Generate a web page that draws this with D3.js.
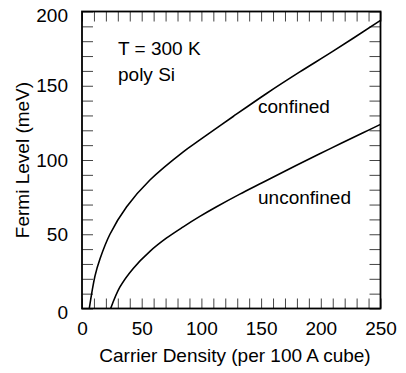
<!DOCTYPE html>
<html>
<head>
<meta charset="utf-8">
<script src="https://cdn.jsdelivr.net/npm/d3@7"></script>
<style>
  body { margin: 0; background: #fff; }
  svg { font-family: "Liberation Sans", Arial, sans-serif; }
</style>
</head>
<body>
<svg width="406" height="373"></svg>
<script>
// carrier density (per 100 A cube) vs Fermi level (meV)
const confinedX = [6.1, 10.9, 15.1, 23.4, 37.4, 56.9, 84.8, 98.7, 126.6, 154.6, 182.4, 210.3, 250];
const confinedY = [0, 22, 33.5, 50, 68.5, 86.5, 105.5, 113.5, 129.3, 144.8, 159.3, 173.3, 194];
const unconfinedX = [24, 31.8, 42.9, 56.9, 70.9, 84.8, 98.7, 112.7, 132.2, 151.7, 179.7, 207.5, 235.4, 250];
const unconfinedY = [0, 14.5, 27, 38.5, 47.5, 55, 62, 68.5, 77, 85, 96.5, 107.5, 118.3, 124];
const xTicks = d3.range(0, 251, 10);
const yTicks = d3.range(0, 201, 10);

const svg = d3.select('svg');
const mLeft = 82, mRight = 380.5, mTop = 11.5, mBottom = 308.5;
const fontSize = 19;

const xScale = d3.scaleLinear().domain([0, 250]).range([mLeft, mRight]);
const yScale = d3.scaleLinear().domain([0, 200]).range([mBottom, mTop]);

const fmt = d => (d % 50 === 0 ? d : '');

const xAxis = d3.axisBottom(xScale).tickValues(xTicks).tickSize(-10).tickPadding(13).tickFormat(fmt);
const xAxisTop = d3.axisTop(xScale).tickValues(xTicks).tickSize(-10).tickFormat('');
const yAxis = d3.axisLeft(yScale).tickValues(yTicks).tickSize(-11).tickPadding(14).tickFormat(fmt);
const yAxisRight = d3.axisRight(yScale).tickValues(yTicks).tickSize(-11).tickFormat('');

svg.append('g').attr('transform', 'translate(0,' + mBottom + ')').call(xAxis);
svg.append('g').attr('transform', 'translate(0,' + mTop + ')').call(xAxisTop);
svg.append('g').attr('transform', 'translate(' + mLeft + ',0)').call(yAxis)
  .selectAll('text')
  .attr('transform', d => (d === 0 || d === 200 ? 'translate(0,4)' : null));
svg.append('g').attr('transform', 'translate(' + mRight + ',0)').call(yAxisRight);

svg.selectAll('.domain').remove();
svg.selectAll('.tick line').attr('stroke', '#444').attr('stroke-width', 1);
svg.selectAll('.tick text').attr('font-size', fontSize).attr('fill', '#000')
  .attr('font-family', '"Liberation Sans", Arial, sans-serif');

svg.append('rect')
  .attr('x', mLeft).attr('y', mTop)
  .attr('width', mRight - mLeft).attr('height', mBottom - mTop)
  .attr('fill', 'none').attr('stroke', '#000').attr('stroke-width', 1.8);

svg.append('clipPath').attr('id', 'clip')
  .append('rect').attr('x', mLeft).attr('y', mTop)
  .attr('width', mRight - mLeft).attr('height', mBottom - mTop);

const line = d3.line()
  .x(d => xScale(d[0]))
  .y(d => yScale(d[1]))
  .curve(d3.curveCatmullRom.alpha(0.5));

[[confinedX, confinedY], [unconfinedX, unconfinedY]].forEach(s => {
  svg.append('path')
    .datum(d3.zip(s[0], s[1]))
    .attr('d', line)
    .attr('clip-path', 'url(#clip)')
    .attr('fill', 'none')
    .attr('stroke', '#000')
    .attr('stroke-width', 1.6);
});

const label = (x, y, t) => svg.append('text')
  .attr('x', x).attr('y', y).attr('font-size', fontSize).text(t);
label(118, 55, 'T = 300 K');
label(118, 81, 'poly Si');
label(258, 113, 'confined');
label(258, 204, 'unconfined');

svg.append('text')
  .attr('x', 235).attr('y', 362)
  .attr('text-anchor', 'middle').attr('font-size', fontSize)
  .text('Carrier Density (per 100 A cube)');

svg.append('text')
  .attr('transform', 'translate(29,160) rotate(-90)')
  .attr('text-anchor', 'middle').attr('font-size', fontSize)
  .text('Fermi Level (meV)');
</script>
</body>
</html>
